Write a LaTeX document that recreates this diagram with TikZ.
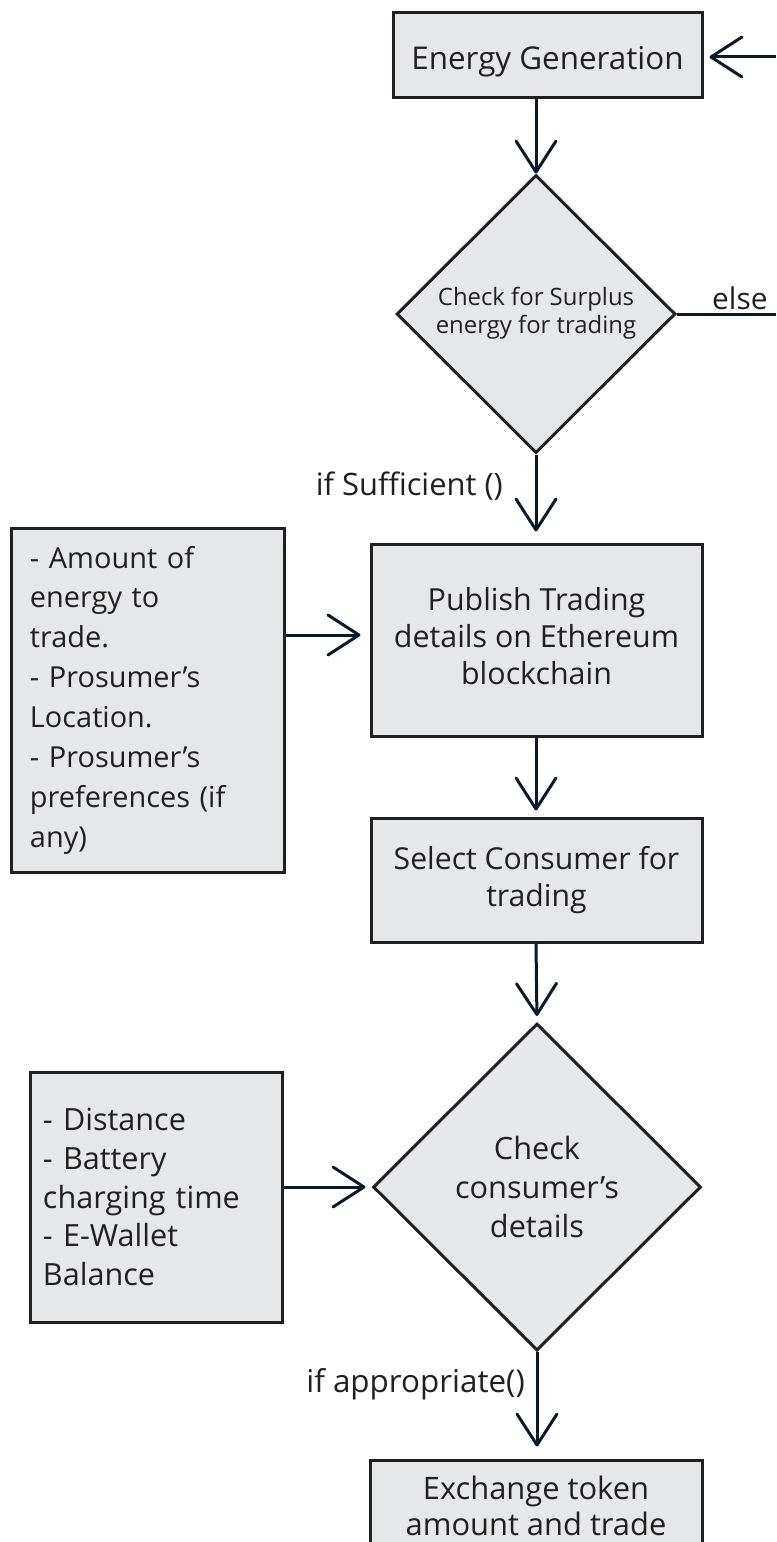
\documentclass[tikz,border=0pt]{standalone}
\usepackage{fontspec}
\setmainfont{Open Sans}
\usetikzlibrary{arrows.meta,shapes.geometric}
\definecolor{boxfill}{HTML}{E6E7E8}
\definecolor{boxline}{HTML}{231F20}
\definecolor{arrcol}{HTML}{0B1A28}
\definecolor{txt}{HTML}{231F20}
\tikzset{
  box/.style={draw=boxline, fill=boxfill, line width=3bp, rectangle, inner sep=0pt, text=txt, align=center,
    font=\fontsize{30.5}{37.5}\selectfont},
  dec/.style={draw=boxline, fill=boxfill, line width=3bp, diamond, aspect=1, inner sep=0pt, text=txt, align=center},
  note/.style={draw=boxline, fill=boxfill, line width=3bp, rectangle, inner sep=0pt, text=txt, align=left},
  arr/.style={draw=arrcol, line width=3bp, -{Straight Barb[length=31bp,width=40bp,round]}},
  plain/.style={draw=arrcol, line width=3bp},
  lab/.style={text=txt, inner sep=0pt, font=\fontsize{31}{36}\selectfont}
}
\begin{document}
\begin{tikzpicture}[x=1bp,y=-1bp]
\useasboundingbox (0,0) rectangle (776,1542);
\fill[white] (0,0) rectangle (776,1542);
\clip (0,0) rectangle (776,1542);

% main boxes
\node[box, minimum width=309bp, minimum height=85bp, font=\fontsize{31.5}{38}\selectfont] (gen) at (547.5,55.5) {\raisebox{-8bp}[20bp][8bp]{Energy Generation}};
\node[dec, minimum width=279bp, minimum height=278bp, font=\fontsize{24}{28}\selectfont] (d1) at (536,314) {\raisebox{4bp}{\begin{tabular}{@{}c@{}}Check for Surplus\\energy for trading\end{tabular}}};
\node[box, minimum width=331bp, minimum height=192bp] (pub) at (536.5,640) {\raisebox{5bp}{\begin{tabular}{@{}c@{}}Publish Trading\\details on Ethereum\\blockchain\end{tabular}}};
\node[box, minimum width=331bp, minimum height=124bp, font=\fontsize{30.3}{38}\selectfont] (sel) at (536.5,880) {Select Consumer for\\trading};
\node[dec, minimum width=328bp, minimum height=327bp, font=\fontsize{30.8}{39.5}\selectfont] (d2) at (537,1187) {Check\\consumer’s\\details};
\node[box, minimum width=332bp, minimum height=92bp, font=\fontsize{31}{36}\selectfont] (ex) at (536,1506) {Exchange token\\amount and trade};

% side notes
\node[note, minimum width=272bp, minimum height=344bp, text width=236bp, font=\fontsize{29}{40}\selectfont] (n1) at (148,700)
  {- Amount of\\energy to\\trade.\\- Prosumer’s\\Location.\\- Prosumer’s\\preferences (if\\any)};
\node[note, minimum width=251bp, minimum height=250bp, text width=227bp, font=\fontsize{30.7}{38.7}\selectfont] (n2) at (156.5,1197)
  {- Distance\\- Battery\\charging time\\- E-Wallet\\Balance};

% free ends at the right edge
\coordinate (inR) at (776,57);
\coordinate (elseR) at (776,314);

% connectors
\draw[arr, shorten >=6bp] (inR) -- (inR -| gen.east);
\draw[arr] (gen.south -| d1.north) -- (d1.north);
\draw[plain] (d1.east) -- (elseR);
\draw[arr, shorten >=11bp] (d1.south) -- (pub.north -| d1.south);
\draw[arr, shorten >=6bp] (pub.south -| d1.south) -- (sel.north -| d1.south);
\draw[arr, shorten >=6bp] (sel.south -| d1.south) -- (d2.north);
\draw[arr, shorten >=9bp] (n1.east |- 0,635) -- (pub.west |- 0,635);
\draw[arr, shorten >=6bp] (n2.east |- d2.west) -- (d2.west);
\draw[arr, shorten >=12bp] (d2.south) -- (ex.north -| d2.south);

% labels
\node[lab, anchor=base west, font=\fontsize{30}{34}\selectfont] (elsel) at (712,309) {else};
\node[lab, anchor=base east] (suff) at (503,495) {if Sufficient ()};
\node[lab, anchor=base east, font=\fontsize{31.5}{36}\selectfont] (appr) at (525,1392) {if appropriate()};
\end{tikzpicture}
\end{document}
